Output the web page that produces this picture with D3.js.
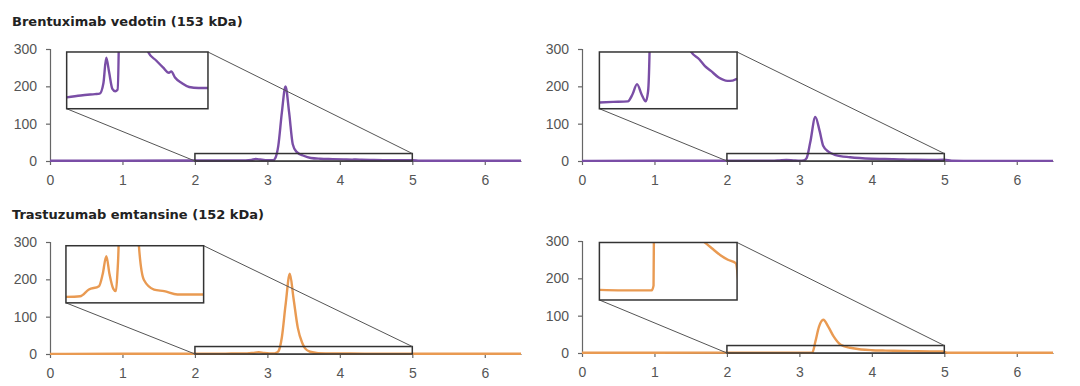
<!DOCTYPE html>
<html><head><meta charset="utf-8">
<script src="https://cdn.jsdelivr.net/npm/d3@7"></script>
<style>
html,body{margin:0;padding:0;background:#fff;}
svg{display:block;font-family:"Liberation Sans",Arial,sans-serif;}
</style></head>
<body><svg id="c" width="1080" height="386"></svg>
<script>
// ---- data ----
const titles = ["Brentuximab vedotin (153 kDa)", "Trastuzumab emtansine (152 kDa)"];
const xTicks = [0, 1, 2, 3, 4, 5, 6];
const yTicks = [0, 100, 200, 300];
const zoomX = [2, 5];      // zoomed time window
const zoomBoxY = [0, 20];  // drawn zoom box height (signal units)
const insetY = [0, 6];     // signal range shown in the inset

const bvTime1 = [0, 1, 2, 2.3, 2.6, 2.7, 2.78, 2.84, 2.9, 2.97, 3.03, 3.08, 3.11, 3.15, 3.2, 3.25, 3.3, 3.35, 3.4, 3.5, 3.6, 3.73, 3.9, 4.05, 4.17, 4.22, 4.3, 4.45, 4.6, 4.8, 5.0, 5.1, 5.5, 6.5];
const bvSignal1 = [0.5, 0.8, 1.2, 1.4, 1.55, 1.6, 2.7, 5.4, 3.9, 2.1, 1.85, 2.0, 8, 40, 130, 200, 130, 45, 25, 14, 8, 6, 5.1, 4.35, 3.8, 3.95, 3.3, 2.7, 2.3, 2.2, 2.2, 1, 0.5, 0.5];

const bvTime2 = [0, 1, 2, 2.3, 2.62, 2.72, 2.82, 2.92, 3.01, 3.06, 3.1, 3.15, 3.22, 3.28, 3.33, 3.4, 3.5, 3.7, 4.0, 4.18, 4.3, 4.43, 4.6, 4.79, 4.9, 5.0, 5.1, 5.5, 6.5];
const bvSignal2 = [0.4, 0.5, 0.66, 0.72, 0.78, 1.5, 2.6, 1.5, 0.78, 1.8, 8, 50, 118, 80, 40, 25, 16, 10, 6, 5.2, 4.5, 4.0, 3.3, 2.95, 2.97, 3.15, 0.6, 0.3, 0.3];

const tmTime1 = [0, 1, 2, 2.31, 2.5, 2.72, 2.8, 2.88, 2.95, 3.03, 3.09, 3.12, 3.15, 3.2, 3.25, 3.31, 3.36, 3.42, 3.48, 3.52, 3.59, 3.7, 3.92, 4.14, 4.43, 5.0, 5.1, 6.5];
const tmSignal1 = [0.4, 0.5, 0.63, 0.7, 1.4, 1.75, 3, 4.9, 3, 1.5, 1.23, 3, 6.6, 45, 130, 215, 150, 70, 30, 15, 6, 2.4, 1.4, 1.23, 0.87, 0.87, 0.5, 0.5];

const tmTime2 = [0, 1, 2, 2.5, 3.0, 3.14, 3.18, 3.22, 3.27, 3.33, 3.4, 3.47, 3.57, 3.7, 3.85, 4.0, 4.15, 4.3, 4.45, 4.63, 4.8, 4.97, 5.05, 5.5, 6.5];
const tmSignal2 = [0.6, 0.8, 1.05, 1.0, 1.0, 1.0, 1.5, 30, 70, 89, 70, 45, 22, 14, 9.5, 7.5, 6.6, 6.0, 5.4, 4.7, 4.2, 3.85, 0.6, 0.6, 0.6];

// ---- layout ----
const purple = "#7a4ea6", orange = "#e99a52";
const panels = [
  {t: bvTime1, s: bvSignal1, color: purple, left: 50, right: 521, top: 49, bottom: 161, inset: [0.23, 2.18, 140, 292]},
  {t: bvTime2, s: bvSignal2, color: purple, left: 582, right: 1053, top: 49, bottom: 161, inset: [0.24, 2.14, 140, 292]},
  {t: tmTime1, s: tmSignal1, color: orange, left: 50, right: 521, top: 242, bottom: 354, inset: [0.22, 2.12, 137, 290]},
  {t: tmTime2, s: tmSignal2, color: orange, left: 582, right: 1053, top: 241, bottom: 353, inset: [0.24, 2.14, 142, 296]}
];

const svg = d3.select("#c");
[[titles[0], 26], [titles[1], 219]].forEach(([txt, yy]) => {
  svg.append("text").attr("x", 12).attr("y", yy).attr("font-size", 13).attr("font-weight", "bold")
    .attr("font-family", "DejaVu Sans, Verdana, sans-serif").attr("fill", "#222").text(txt);
});

panels.forEach((p, i) => {
  const x = d3.scaleLinear().domain([0, 6.5]).range([p.left, p.right]);
  const y = d3.scaleLinear().domain([0, 300]).range([p.bottom, p.top]);
  const g = svg.append("g");
  const data = p.t.map((t, k) => [t, p.s[k]]);

  // axes
  const xa = g.append("g").attr("transform", `translate(0,${p.bottom})`)
    .call(d3.axisBottom(x).tickValues(xTicks).tickFormat(d3.format("d")).tickSize(4).tickPadding(10).tickSizeOuter(0));
  const ya = g.append("g").attr("transform", `translate(${p.left},0)`)
    .call(d3.axisLeft(y).tickValues(yTicks).tickFormat(d3.format("d")).tickSize(4).tickPadding(9).tickSizeOuter(4));
  [xa, ya].forEach(a => {
    a.selectAll("path,line").attr("stroke", "#666").attr("stroke-width", 1.2);
    a.selectAll("text").attr("font-size", 14).attr("fill", "#555").attr("font-family", "Liberation Sans, Arial, sans-serif");
  });

  // main trace
  const line = d3.line().x(d => x(d[0])).y(d => y(d[1])).curve(d3.curveMonotoneX);
  g.append("path").datum(data).attr("d", line).attr("fill", "none")
    .attr("stroke", p.color).attr("stroke-width", 2.4).attr("stroke-linejoin", "round");

  // zoom box
  g.append("rect").attr("x", x(zoomX[0])).attr("y", y(zoomBoxY[1]))
    .attr("width", x(zoomX[1]) - x(zoomX[0])).attr("height", y(zoomBoxY[0]) - y(zoomBoxY[1]))
    .attr("fill", "none").attr("stroke", "#333").attr("stroke-width", 1.5);

  // inset
  const ix0 = x(p.inset[0]), ix1 = x(p.inset[1]), iyb = y(p.inset[2]), iyt = y(p.inset[3]);
  g.append("line").attr("x1", ix0).attr("y1", iyb).attr("x2", x(zoomX[0])).attr("y2", y(zoomBoxY[0]))
    .attr("stroke", "#555").attr("stroke-width", 1);
  g.append("line").attr("x1", ix1).attr("y1", iyt).attr("x2", x(zoomX[1])).attr("y2", y(zoomBoxY[1]))
    .attr("stroke", "#555").attr("stroke-width", 1);

  const xi = d3.scaleLinear().domain(zoomX).range([ix0, ix1]);
  const yi = d3.scaleLinear().domain(insetY).range([iyb, iyt]);
  const cid = "clip" + i;
  g.append("clipPath").attr("id", cid).append("rect")
    .attr("x", ix0).attr("y", iyt).attr("width", ix1 - ix0).attr("height", iyb - iyt);
  g.append("rect").attr("x", ix0).attr("y", iyt).attr("width", ix1 - ix0).attr("height", iyb - iyt)
    .attr("fill", "#fff");
  const iline = d3.line().x(d => xi(d[0])).y(d => yi(d[1])).curve(d3.curveMonotoneX);
  g.append("path").datum(data.filter(d => d[0] >= 1.9 && d[0] <= 5.1)).attr("d", iline)
    .attr("clip-path", `url(#${cid})`).attr("fill", "none")
    .attr("stroke", p.color).attr("stroke-width", 2.4).attr("stroke-linejoin", "round");
  g.append("rect").attr("x", ix0).attr("y", iyt).attr("width", ix1 - ix0).attr("height", iyb - iyt)
    .attr("fill", "none").attr("stroke", "#333").attr("stroke-width", 1.5);
});
</script></body></html>
